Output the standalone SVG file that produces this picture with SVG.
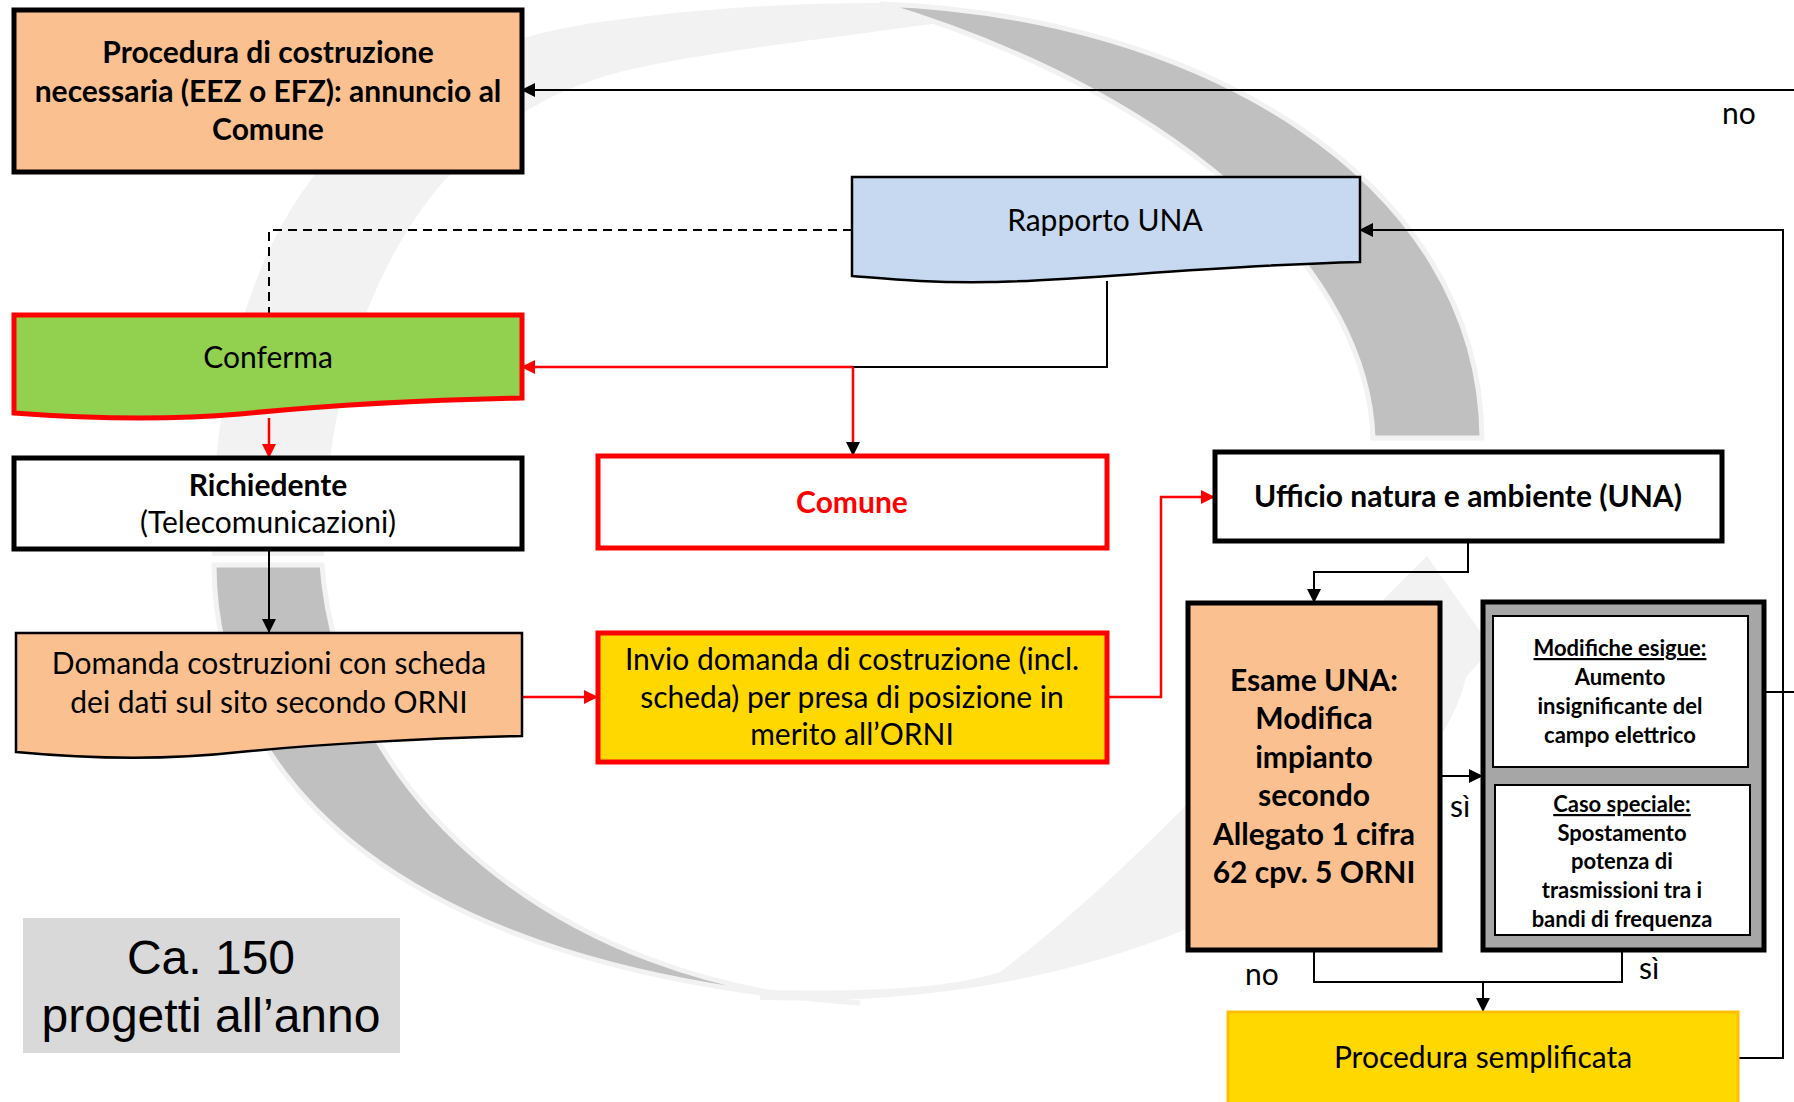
<svg xmlns="http://www.w3.org/2000/svg" width="1794" height="1102" viewBox="0 0 1794 1102">
<style>
  .t { font-family: Lato, "Open Sans", "Liberation Sans", sans-serif; font-size: 30px; fill: #000; }
  .b { font-weight: bold; }
  .s { font-size: 22px; font-weight: bold; }
  .c { text-anchor: middle; }
  .ca { font-family: "Liberation Sans", Arial, sans-serif; font-size: 48px; fill: #000; text-anchor: middle; }
  .thick { stroke: #000; stroke-width: 5; }
  .red { stroke: #FF0000; stroke-width: 5; }
  .ln { fill: none; stroke: #000; stroke-width: 2; }
  .lr { fill: none; stroke: #FF0000; stroke-width: 2.5; }
  .light { fill: #F2F2F2; }
  .dark { fill: #C0C0C0; stroke: #F2F2F2; stroke-width: 5; }
</style>
<defs>
  <marker id="ab" markerUnits="userSpaceOnUse" markerWidth="14" markerHeight="14" refX="13" refY="7" orient="auto">
    <path d="M0,0 L14,7 L0,14 Z" fill="#000"/>
  </marker>
  <marker id="ar" markerUnits="userSpaceOnUse" markerWidth="14" markerHeight="14" refX="13" refY="7" orient="auto">
    <path d="M0,0 L14,7 L0,14 Z" fill="#FF0000"/>
  </marker>
</defs>
<rect width="1794" height="1102" fill="#FFFFFF"/>

<g id="background">
  <path class="light" d="M 212,556 C 212,250 330,60 600,22 C 700,8 800,2 900,3 L 960,20 C 820,40 700,52 620,72 C 420,122 324,330 324,556 Z"/>
  <path class="light" d="M 760,1000 C 1200,1012 1440,800 1466,677 L 1492,648 L 1427,556 C 1300,680 1150,860 1000,972 C 950,988 880,992 760,990 Z"/>
  <path class="dark" d="M 880,4 C 1200,15 1480,180 1482,438 L 1373,438 C 1368,280 1200,100 880,4 Z"/>
  <path class="dark" d="M 214,565 L 322,565 C 340,800 560,985 860,1003 C 400,970 215,780 214,565 Z"/>
</g>

<g id="connectors">
  <path class="ln" d="M 1794,90 L 522,90" marker-end="url(#ab)"/>
  <path class="ln" d="M 1738,1058 L 1783,1058 L 1783,230 L 1360,230" marker-end="url(#ab)"/>
  <path class="ln" d="M 1748,692 L 1794,692"/>
  <path class="ln" d="M 852,230 L 269,230 L 269,315" stroke-dasharray="9,6"/>
  <path class="ln" d="M 1107,281 L 1107,367 L 853,367"/>
  <path class="lr" d="M 853,367 L 522,367" marker-end="url(#ar)"/>
  <path class="lr" d="M 853,367 L 853,455" marker-end="url(#ab)"/>
  <path class="lr" d="M 269,418 L 269,457" marker-end="url(#ar)"/>
  <path class="ln" d="M 269,549 L 269,632" marker-end="url(#ab)"/>
  <path class="lr" d="M 522,697 L 597,697" marker-end="url(#ar)"/>
  <path class="lr" d="M 1107,697 L 1161,697 L 1161,497 L 1214,497" marker-end="url(#ar)"/>
  <path class="ln" d="M 1468,541 L 1468,572 L 1314,572 L 1314,602" marker-end="url(#ab)"/>
  <path class="ln" d="M 1440,776 L 1482,776" marker-end="url(#ab)"/>
  <path class="ln" d="M 1314,950 L 1314,982 L 1622,982 L 1622,950"/>
  <path class="ln" d="M 1483,982 L 1483,1011" marker-end="url(#ab)"/>
  <text class="t c" x="1739" y="124">no</text>
  <text class="t c" x="1460" y="817">sì</text>
  <text class="t c" x="1649" y="979">sì</text>
  <text class="t c" x="1262" y="985">no</text>
</g>

<g id="n-procedura">
  <rect x="14" y="10" width="508" height="162" fill="#FAC090" class="thick"/>
  <text class="t b c" x="268" y="63">Procedura di costruzione</text>
  <text class="t b c" x="268" y="102">necessaria (EEZ o EFZ): annuncio al</text>
  <text class="t b c" x="268" y="140">Comune</text>
</g>

<g id="n-rapporto">
  <path d="M 852,177 L 1360,177 L 1360,262 C 1200,266 1080,281 990,282 C 930,283 890,279 852,276 Z" fill="#C6D9F1" stroke="#000" stroke-width="2.5"/>
  <text class="t c" x="1105" y="231">Rapporto UNA</text>
</g>

<g id="n-conferma">
  <path d="M 14,315 L 522,315 L 522,398 C 420,400 320,406 240,414 C 160,421 80,418 14,413 Z" fill="#92D050" class="red"/>
  <text class="t c" x="268" y="368">Conferma</text>
</g>

<g id="n-richiedente">
  <rect x="14" y="458" width="508" height="91" fill="#FFFFFF" class="thick"/>
  <text class="t b c" x="268" y="496">Richiedente</text>
  <text class="t c" x="268" y="533">(Telecomunicazioni)</text>
</g>

<g id="n-domanda">
  <path d="M 16,633 L 522,633 L 522,736 C 420,738 310,745 240,752 C 160,761 80,758 16,752 Z" fill="#FAC090" stroke="#000" stroke-width="2.5"/>
  <text class="t c" x="269" y="674">Domanda costruzioni con scheda</text>
  <text class="t c" x="269" y="713">dei dati sul sito secondo ORNI</text>
</g>

<g id="n-comune">
  <rect x="598" y="456" width="509" height="92" fill="#FFFFFF" class="red"/>
  <text class="t b c" x="852" y="513" style="fill:#FF0000">Comune</text>
</g>

<g id="n-invio">
  <rect x="598" y="633" width="509" height="129" fill="#FFD800" class="red"/>
  <text class="t c" x="852" y="670">Invio domanda di costruzione (incl.</text>
  <text class="t c" x="852" y="708">scheda) per presa di posizione in</text>
  <text class="t c" x="852" y="745">merito all’ORNI</text>
</g>

<g id="n-una">
  <rect x="1215" y="452" width="507" height="89" fill="#FFFFFF" class="thick"/>
  <text class="t b c" x="1468" y="507">Ufficio natura e ambiente (UNA)</text>
</g>

<g id="n-esame">
  <rect x="1188" y="603" width="252" height="347" fill="#FAC090" class="thick"/>
  <text class="t b c" x="1314" y="691">Esame UNA:</text>
  <text class="t b c" x="1314" y="729">Modifica</text>
  <text class="t b c" x="1314" y="768">impianto</text>
  <text class="t b c" x="1314" y="806">secondo</text>
  <text class="t b c" x="1314" y="845">Allegato 1 cifra</text>
  <text class="t b c" x="1314" y="883">62 cpv. 5 ORNI</text>
</g>

<g id="n-casi">
  <rect x="1483" y="602" width="281" height="348" fill="#A6A6A6" class="thick"/>
  <rect x="1493" y="616" width="255" height="151" fill="#FFFFFF" stroke="#000" stroke-width="2"/>
  <rect x="1495" y="785" width="255" height="150" fill="#FFFFFF" stroke="#000" stroke-width="2"/>
  <text class="t s c" x="1620" y="656" text-decoration="underline">Modifiche esigue:</text>
  <text class="t s c" x="1620" y="685">Aumento</text>
  <text class="t s c" x="1620" y="714">insignificante del</text>
  <text class="t s c" x="1620" y="743">campo elettrico</text>
  <text class="t s c" x="1622" y="812" text-decoration="underline">Caso speciale:</text>
  <text class="t s c" x="1622" y="841">Spostamento</text>
  <text class="t s c" x="1622" y="869">potenza di</text>
  <text class="t s c" x="1622" y="898">trasmissioni tra i</text>
  <text class="t s c" x="1622" y="927">bandi di frequenza</text>
</g>

<g id="n-semplificata">
  <rect x="1228" y="1012" width="510" height="100" fill="#FFD800" stroke="#FFC000" stroke-width="3"/>
  <text class="t c" x="1483" y="1068">Procedura semplificata</text>
</g>

<g id="n-ca150">
  <rect x="23" y="918" width="377" height="135" fill="#D9D9D9"/>
  <text class="ca" x="211" y="974">Ca. 150</text>
  <text class="ca" x="211" y="1032">progetti all’anno</text>
</g>
</svg>
